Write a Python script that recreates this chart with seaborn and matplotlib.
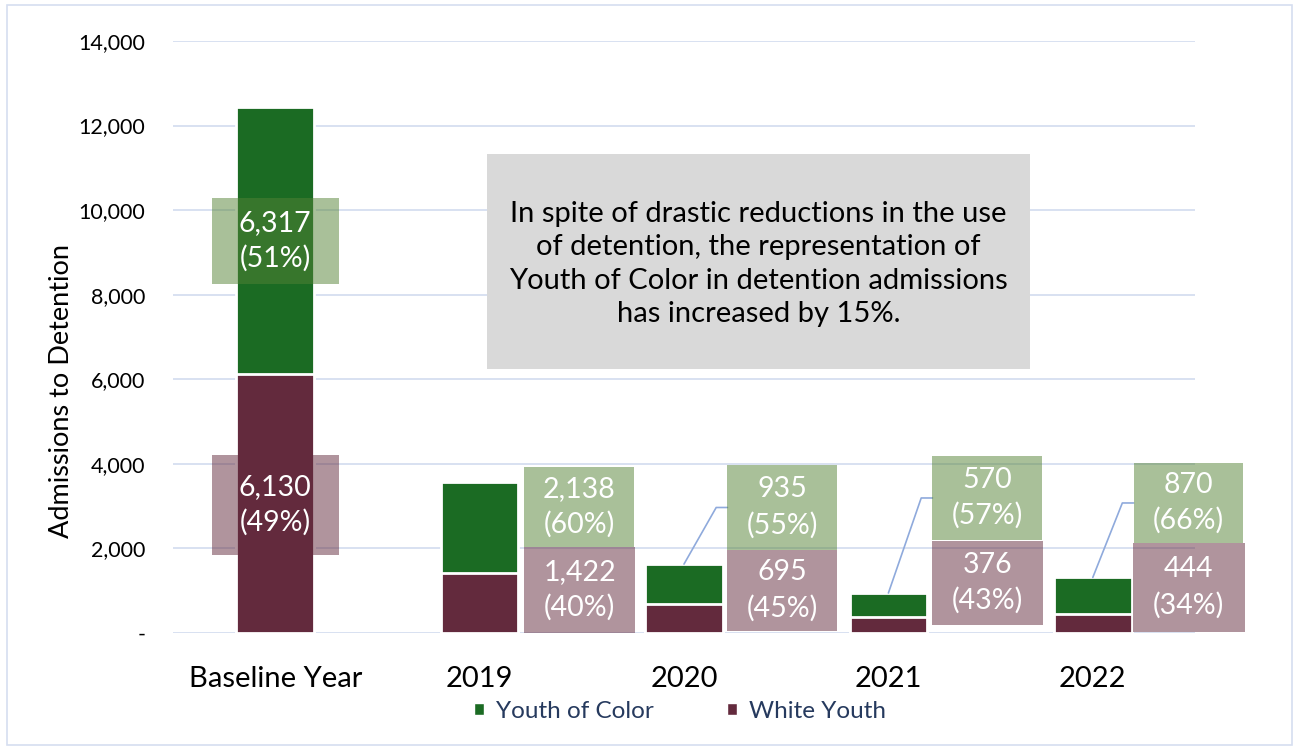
import matplotlib
matplotlib.use("Agg")
import matplotlib.pyplot as plt
import matplotlib.ticker as mticker
from matplotlib.patches import Rectangle, Patch
import pandas as pd
import seaborn as sns

# data
categories = ["Baseline Year", "2019", "2020", "2021", "2022"]
youth_of_color = [6317, 2138, 935, 570, 870]
white_youth = [6130, 1422, 695, 376, 444]
color_pct = [51, 60, 55, 57, 66]
white_pct = [49, 40, 45, 43, 34]

GREEN = "#1b6b23"
MAROON = "#632a3d"
BOX_GREEN = "#548235"
GRID = "#d6def0"
LEADER = "#8faadc"

df = pd.DataFrame({"category": categories,
                   "color": youth_of_color,
                   "white": white_youth})
df["total"] = df["color"] + df["white"]

# label box layout (centre x offset from bar, centre y, width, height)
green_lab = [(0.0, 9271, 0.62, 2034), (0.487, 2980, 0.535, 1892), (0.48, 2968, 0.535, 2010),
             (0.483, 3193, 0.535, 1987), (0.467, 3075, 0.535, 1892)]
white_lab = [(0.0, 3027, 0.62, 2365), (0.49, 1017, 0.545, 2034), (0.48, 1005, 0.535, 1916),
             (0.485, 1183, 0.545, 1987), (0.47, 1076, 0.545, 2105)]
leader_cats = [2, 3, 4]

sns.set_theme(style="white")
plt.rcParams["font.family"] = ["Lato", "DejaVu Sans"]

fig = plt.figure(figsize=(12.95, 7.49), dpi=100)
ax = fig.add_axes([173 / 1295, 1 - 633 / 749, (1195 - 173) / 1295, (633 - 41) / 749])

ax.set_axisbelow(True)
ax.yaxis.grid(True, color=GRID, linewidth=1.3)

sns.barplot(data=df, x="category", y="total", color=GREEN, saturation=1, width=0.38,
            edgecolor="white", linewidth=2, errorbar=None, ax=ax)
sns.barplot(data=df, x="category", y="white", color=MAROON, saturation=1, width=0.38,
            edgecolor="white", linewidth=2, errorbar=None, ax=ax)

for i in range(len(categories)):
    for lab, base, val, pct in ((green_lab[i], BOX_GREEN, youth_of_color[i], color_pct[i]),
                                (white_lab[i], MAROON, white_youth[i], white_pct[i])):
        dx, cy, w, h = lab
        cx = i + dx
        ax.add_patch(Rectangle((cx - w / 2, cy - h / 2), w, h, facecolor=base, alpha=0.5,
                               edgecolor="none", zorder=4, clip_on=False))
        ax.text(cx, cy, f"{val:,}\n({pct}%)", ha="center", va="center", color="white",
                fontsize=20.5, linespacing=1.42, zorder=5, clip_on=False)
    if i in leader_cats:
        dx, cy, w, h = green_lab[i]
        left = i + dx - w / 2
        ax.plot([i, left - 0.055, left], [df["total"][i], cy, cy], color=LEADER,
                linewidth=1.2, zorder=3, clip_on=False)

ax.set_xlim(-0.5, 4.5)
ax.set_ylim(0, 14000)
ax.set_yticks(range(0, 14001, 2000))
ax.yaxis.set_major_formatter(mticker.FuncFormatter(lambda v, p: "-" if v == 0 else f"{int(v):,}"))
ax.tick_params(axis="y", length=0, pad=20, labelsize=15.5, labelcolor="black")
ax.tick_params(axis="x", length=0, pad=24, labelsize=21, labelcolor="black")
ax.set_xlabel("")
ax.set_ylabel("")
for s in ax.spines.values():
    s.set_visible(False)

fig.text(62 / 1295, 1 - 391 / 749, "Admissions to Detention", rotation=90, ha="center",
         va="center", fontsize=19.5, color="black")

fig.patches.append(Rectangle((487 / 1295, 1 - 369 / 749), (1030 - 487) / 1295, (369 - 154) / 749,
                             transform=fig.transFigure, facecolor="#d9d9d9", edgecolor="none",
                             zorder=6))
fig.text(758.5 / 1295, 1 - 264 / 749,
         "In spite of drastic reductions in the use\nof detention, the representation of\n"
         "Youth of Color in detention admissions\nhas increased by 15%.",
         ha="center", va="center", fontsize=21, linespacing=1.35, color="black", zorder=7)

handles = [Patch(facecolor=GREEN, label="Youth of Color"), Patch(facecolor=MAROON, label="White Youth")]
fig.legend(handles=handles, loc="center", bbox_to_anchor=(680 / 1295, 1 - 711 / 749), ncol=2,
           frameon=False, fontsize=17.5, labelcolor="#263a5e", handlelength=0.42, handleheight=0.42,
           handletextpad=0.5, columnspacing=3.0)

fig.patches.append(Rectangle((7 / 1295, 4 / 749), 1285 / 1295, 740 / 749, transform=fig.transFigure,
                             facecolor="none", edgecolor=GRID, linewidth=1.2))

fig.savefig("out.png", dpi=100)
